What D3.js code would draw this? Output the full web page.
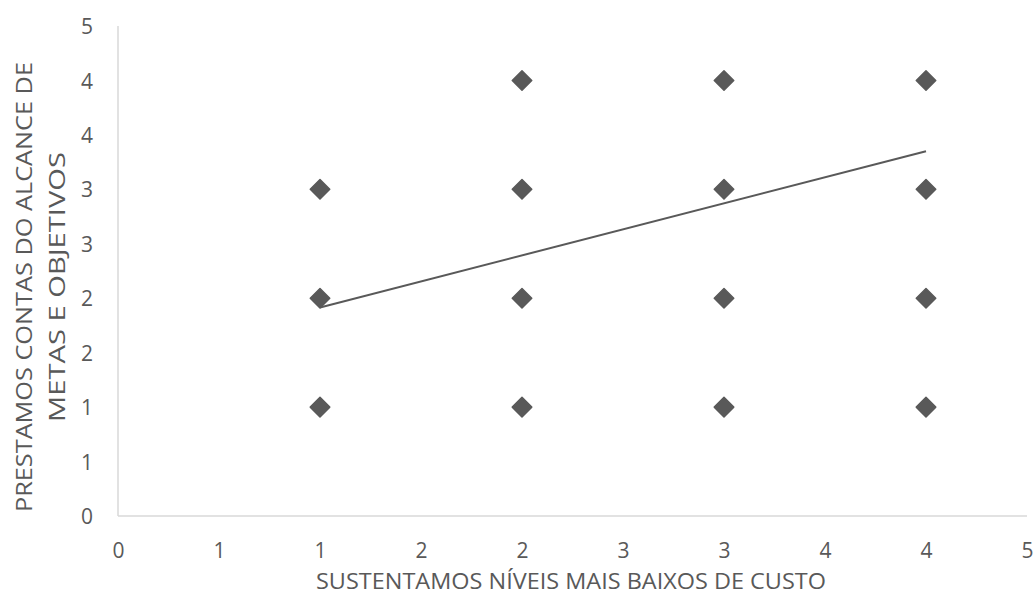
<!DOCTYPE html>
<html>
<head>
<meta charset="utf-8">
<script src="https://cdn.jsdelivr.net/npm/d3@7"></script>
<style>
  html, body { margin: 0; padding: 0; background: #ffffff; }
  svg { display: block; }
  text { font-family: "Open Sans", "Noto Sans", sans-serif; fill: #595959; }
</style>
</head>
<body>
<svg id="chart" width="1034" height="603"></svg>
<script>
// ---- data ----
const pointX = [1, 1, 1, 2, 2, 2, 2, 3, 3, 3, 3, 4, 4, 4, 4];
const pointY = [1, 2, 3, 1, 2, 3, 4, 1, 2, 3, 4, 1, 2, 3, 4];
const trendX = [1, 4];
const trendY = [1.915, 3.35];
const xTickValues = [0, 0.5, 1, 1.5, 2, 2.5, 3, 3.5, 4, 4.5];
const xTickLabels = ["0", "1", "1", "2", "2", "3", "3", "4", "4", "5"];
const yTickValues = [0, 0.5, 1, 1.5, 2, 2.5, 3, 3.5, 4, 4.5];
const yTickLabels = ["0", "1", "1", "2", "2", "3", "3", "4", "4", "5"];
const xTitle = "SUSTENTAMOS NÍVEIS MAIS BAIXOS DE CUSTO";
const yTitleLines = ["PRESTAMOS CONTAS DO ALCANCE DE", "METAS E OBJETIVOS"];

// ---- layout ----
const svg = d3.select("#chart");
const x = d3.scaleLinear().domain([0, 4.5]).range([118, 1027]);
const y = d3.scaleLinear().domain([0, 4.5]).range([516, 26]);
const ink = "#595959";
const fam = '"Open Sans", "Noto Sans", sans-serif';

// axis lines
svg.append("line")
  .attr("x1", x(0)).attr("x2", x(0)).attr("y1", y(4.5)).attr("y2", y(0))
  .attr("stroke", "#d9d9d9").attr("stroke-width", 1.5);
svg.append("line")
  .attr("x1", x(0)).attr("x2", x(4.5)).attr("y1", y(0)).attr("y2", y(0))
  .attr("stroke", "#d9d9d9").attr("stroke-width", 1.5);

// x tick labels
const xAxis = d3.axisBottom(x).tickValues(xTickValues)
  .tickFormat((d, i) => xTickLabels[i]).tickSize(0).tickPadding(0);
const gx = svg.append("g").attr("transform", `translate(0,${y(0)})`).call(xAxis);
gx.select(".domain").remove();
gx.selectAll("text")
  .attr("y", 42).attr("dy", null)
  .style("font-family", fam)
  .style("font-size", "21px").attr("fill", ink);

// y tick labels
const yAxis = d3.axisLeft(y).tickValues(yTickValues)
  .tickFormat((d, i) => yTickLabels[i]).tickSize(0).tickPadding(0);
const gy = svg.append("g").attr("transform", `translate(${x(0)},0)`).call(yAxis);
gy.select(".domain").remove();
gy.selectAll("text")
  .attr("x", -25).attr("dy", "0.36em")
  .style("font-family", fam)
  .style("font-size", "21px").attr("fill", ink);

// trendline
const line = d3.line().x(d => x(d[0])).y(d => y(d[1]));
svg.append("path")
  .datum(trendX.map((v, i) => [v, trendY[i]]))
  .attr("d", line)
  .attr("fill", "none").attr("stroke", ink).attr("stroke-width", 2);

// markers
const sym = d3.symbol().type(d3.symbolSquare).size(190);
svg.append("g").selectAll("path")
  .data(pointX.map((v, i) => [v, pointY[i]]))
  .join("path")
  .attr("d", sym)
  .attr("transform", d => `translate(${x(d[0])},${y(d[1])}) rotate(45)`)
  .attr("fill", ink).attr("stroke", ink).attr("stroke-width", 1.5)
  .attr("stroke-linejoin", "round");

// x title
svg.append("text")
  .attr("x", 571).attr("y", 589)
  .attr("text-anchor", "middle")
  .attr("textLength", 510).attr("lengthAdjust", "spacingAndGlyphs")
  .style("font-size", "21.5px")
  .text(xTitle);

// y title
const yt = svg.append("g").attr("transform", "translate(0,287) rotate(-90)");
yt.append("text")
  .attr("x", 0).attr("y", 32)
  .attr("text-anchor", "middle")
  .attr("textLength", 450).attr("lengthAdjust", "spacingAndGlyphs")
  .style("font-size", "21.5px")
  .text(yTitleLines[0]);
yt.append("text")
  .attr("x", 0).attr("y", 65)
  .attr("text-anchor", "middle")
  .attr("textLength", 270).attr("lengthAdjust", "spacingAndGlyphs")
  .style("font-size", "21.5px")
  .text(yTitleLines[1]);
</script>
</body>
</html>
